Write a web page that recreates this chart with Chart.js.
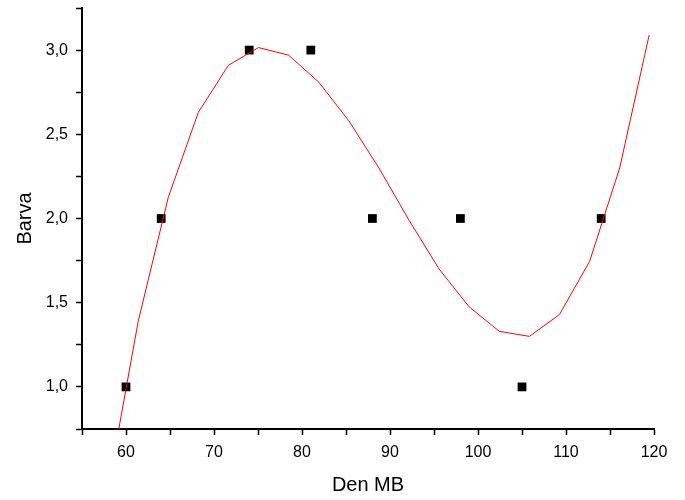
<!DOCTYPE html>
<html>
<head>
<meta charset="utf-8">
<title>Barva vs Den MB</title>
<script src="https://cdn.jsdelivr.net/npm/chart.js@4.4.0/dist/chart.umd.min.js"></script>
<style>
  html, body { margin: 0; padding: 0; background: #fff; }
  #wrap { width: 685px; height: 500px; position: relative; }
</style>
</head>
<body>
<div id="wrap"><canvas id="chart"></canvas></div>
<script>
// Measured points
const dayX = [60, 64, 74, 81, 88, 98, 105, 114];
const colourY = [1, 2, 3, 3, 2, 2, 1, 2];

// Fitted curve (polyline vertices)
const fitX = [57.97, 61.39, 64.80, 68.22, 71.64, 75.06, 78.48, 81.90, 85.32, 88.74,
              92.16, 95.58, 99.00, 102.42, 105.84, 109.26, 112.68, 116.10, 119.45];
const fitY = [0.40, 1.39, 2.125, 2.63, 2.91, 3.015, 2.97, 2.81, 2.58, 2.30,
              1.99, 1.70, 1.475, 1.33, 1.30, 1.43, 1.745, 2.30, 3.09];

// Axis ranges / tick steps
const xRange = [55, 120];
const yRange = [0.75, 3.25];
const xLabelStep = 10;
const yLabelStep = 0.5;

const toXY = (xs, ys) => xs.map((x, i) => ({ x, y: ys[i] }));
const isMultiple = (v, step) => Math.abs(v / step - Math.round(v / step)) < 1e-6;
const font = 'Liberation Sans, Arial, sans-serif';

new Chart(document.getElementById('chart'), {
  type: 'scatter',
  data: {
    datasets: [
      {
        label: 'fit',
        data: toXY(fitX, fitY),
        showLine: true,
        borderColor: 'rgb(255,0,0)',
        borderWidth: 1,
        pointRadius: 0,
        tension: 0
      },
      {
        label: 'Barva',
        data: toXY(dayX, colourY),
        pointStyle: 'rect',
        pointRadius: 6.2,
        backgroundColor: '#000',
        borderWidth: 0
      }
    ]
  },
  options: {
    responsive: true,
    maintainAspectRatio: false,
    animation: false,
    layout: { padding: { left: 0, right: 31, top: 8, bottom: 0 } },
    plugins: { legend: { display: false }, tooltip: { enabled: false } },
    scales: {
      x: {
        type: 'linear',
        min: xRange[0], max: xRange[1],
        afterFit: (s) => { s.height = 71; s.paddingLeft = 0; s.paddingRight = 0; },
        border: { color: '#000', width: 2 },
        grid: { drawOnChartArea: false, tickLength: 6, tickColor: '#000', tickWidth: 1.5 },
        ticks: {
          stepSize: 5, color: '#000', padding: 8, maxRotation: 0, autoSkip: false,
          font: { family: font, size: 16 },
          callback: (v) => isMultiple(v, xLabelStep) ? String(v) : ''
        },
        title: {
          display: true, text: 'Den MB', color: '#000',
          font: { family: font, size: 20 }, padding: { top: 0, bottom: 3 }
        }
      },
      y: {
        type: 'linear',
        min: yRange[0], max: yRange[1],
        afterFit: (s) => { s.width = 82; s.paddingTop = 0; s.paddingBottom = 0; },
        border: { color: '#000', width: 2 },
        grid: { drawOnChartArea: false, tickLength: 6, tickColor: '#000', tickWidth: 1.5 },
        ticks: {
          stepSize: 0.25, color: '#000', padding: 8, autoSkip: false,
          font: { family: font, size: 16 },
          callback: (v) => isMultiple(v, yLabelStep) ? v.toFixed(1).replace('.', ',') : ''
        },
        title: {
          display: true, text: 'Barva', color: '#000',
          font: { family: font, size: 20 }, padding: { top: 13, bottom: 0 }
        }
      }
    }
  }
});
</script>
</body>
</html>
